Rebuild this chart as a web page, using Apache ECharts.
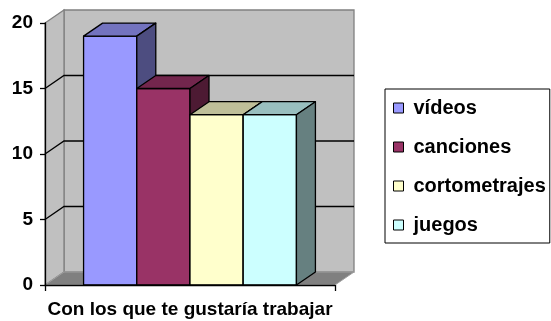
<!DOCTYPE html>
<html>
<head>
<meta charset="utf-8">
<script src="https://cdn.jsdelivr.net/npm/echarts@6/dist/echarts.min.js"></script>
<style>
html,body{margin:0;padding:0;background:#fff;}
#chart{width:551px;height:321px;}
</style>
</head>
<body>
<div id="chart"></div>
<script>
// ---- data ----
const categories = ['Con los que te gustaría trabajar'];
const seriesNames = ['vídeos', 'canciones', 'cortometrajes', 'juegos'];
const videos = [19];
const canciones = [15];
const cortometrajes = [13];
const juegos = [13];
const yTicks = [0, 5, 10, 15, 20];

const seriesValues = [videos, canciones, cortometrajes, juegos];
const frontColors = ['#9999FF', '#993366', '#FFFFCC', '#CCFFFF'];
const topColors   = ['#7373BF', '#73264D', '#BFBF99', '#99BFBF'];
const sideColors  = ['#4D4D80', '#4D1A33', '#80806A', '#668080'];

const DX = 19, DY = -13;          // 3D depth offset in pixels
const GROUP_FRAC = 0.734;         // fraction of category band used by the bars
const FONT = 'Liberation Sans, Arial, sans-serif';

const chart = echarts.init(document.getElementById('chart'), null, {renderer: 'canvas'});

function wallsRender(params, api) {
  const cs = params.coordSys;
  const x0 = cs.x, x1 = cs.x + cs.width;
  const y0 = api.coord([0, yTicks[0]])[1];
  const yTop = api.coord([0, yTicks[yTicks.length - 1]])[1];
  const children = [];
  // back wall
  children.push({type: 'polygon', shape: {points: [[x0 + DX, yTop + DY], [x1 + DX, yTop + DY], [x1 + DX, y0 + DY], [x0 + DX, y0 + DY]]},
    style: {fill: '#C0C0C0', stroke: '#808080', lineWidth: 1.3}});
  // side wall
  children.push({type: 'polygon', shape: {points: [[x0, yTop], [x0 + DX, yTop + DY], [x0 + DX, y0 + DY], [x0, y0]]},
    style: {fill: '#C0C0C0', stroke: '#808080', lineWidth: 1.3}});
  // floor
  children.push({type: 'polygon', shape: {points: [[x0, y0], [x1, y0], [x1 + DX, y0 + DY], [x0 + DX, y0 + DY]]},
    style: {fill: '#808080', stroke: '#A0A0A0', lineWidth: 1}});
  // gridlines
  for (let i = 1; i < yTicks.length - 1; i++) {
    const y = api.coord([0, yTicks[i]])[1];
    children.push({type: 'polyline', shape: {points: [[x0, y], [x0 + DX, y + DY], [x1 + DX, y + DY]]},
      style: {fill: null, stroke: '#000', lineWidth: 1.3}});
  }
  return {type: 'group', children: children};
}

function makeBarRender(idx) {
  return function (params, api) {
    const c = api.value(0), v = api.value(1);
    const base = api.coord([c, 0]);
    const top = api.coord([c, v]);
    const band = api.size([1, 0])[0];
    const groupW = band * GROUP_FRAC;
    const bw = groupW / seriesNames.length;
    const xl = base[0] - groupW / 2 + idx * bw;
    const xr = xl + bw;
    const yb = base[1], yt = top[1];
    const st = {stroke: '#000', lineWidth: 1.3, lineJoin: 'round'};
    return {type: 'group', children: [
      {type: 'polygon', shape: {points: [[xl, yt], [xr, yt], [xr, yb], [xl, yb]]}, style: Object.assign({fill: frontColors[idx]}, st)},
      {type: 'polygon', shape: {points: [[xl, yt], [xl + DX, yt + DY], [xr + DX, yt + DY], [xr, yt]]}, style: Object.assign({fill: topColors[idx]}, st)},
      {type: 'polygon', shape: {points: [[xr, yt], [xr + DX, yt + DY], [xr + DX, yb + DY], [xr, yb]]}, style: Object.assign({fill: sideColors[idx]}, st)}
    ]};
  };
}

const series = [{
  type: 'custom', name: '__walls', z: 1, silent: true,
  renderItem: wallsRender, data: [[0, 0]], tooltip: {show: false}
}];
seriesNames.forEach((n, i) => {
  series.push({
    type: 'custom', name: n, z: 2 + i,
    itemStyle: {color: frontColors[i]},
    renderItem: makeBarRender(i),
    data: seriesValues[i].map((v, k) => [k, v])
  });
});

chart.setOption({
  backgroundColor: '#fff',
  animation: false,
  grid: {left: 45, top: 23, width: 290, height: 262},
  legend: {
    data: seriesNames,
    orient: 'vertical',
    left: 385, top: 89,
    padding: [9, 4, 8, 8],
    itemGap: 19,
    itemWidth: 10, itemHeight: 10,
    icon: 'rect',
    borderColor: '#000', borderWidth: 1,
    backgroundColor: '#fff',
    itemStyle: {borderColor: '#000', borderWidth: 1},
    textStyle: {fontFamily: FONT, fontWeight: 'bold', fontSize: 20, color: '#000', padding: [0, 0, 0, 5]}
  },
  xAxis: {
    type: 'category', data: categories, z: 10,
    axisLine: {lineStyle: {color: '#000', width: 1.3}},
    axisTick: {show: true, length: 6, lineStyle: {color: '#000', width: 1.3}},
    axisLabel: {fontFamily: FONT, fontWeight: 'bold', fontSize: 19, color: '#000', margin: 15},
    splitLine: {show: false}
  },
  yAxis: {
    type: 'value', min: yTicks[0], max: yTicks[yTicks.length - 1], interval: yTicks[1] - yTicks[0], z: 10,
    axisLine: {show: true, lineStyle: {color: '#000', width: 1.3}},
    axisTick: {show: true, length: 5, lineStyle: {color: '#000', width: 1.3}},
    axisLabel: {fontFamily: FONT, fontWeight: 'bold', fontSize: 19, color: '#000', margin: 12},
    splitLine: {show: false}
  },
  series: series
});
</script>
</body>
</html>
